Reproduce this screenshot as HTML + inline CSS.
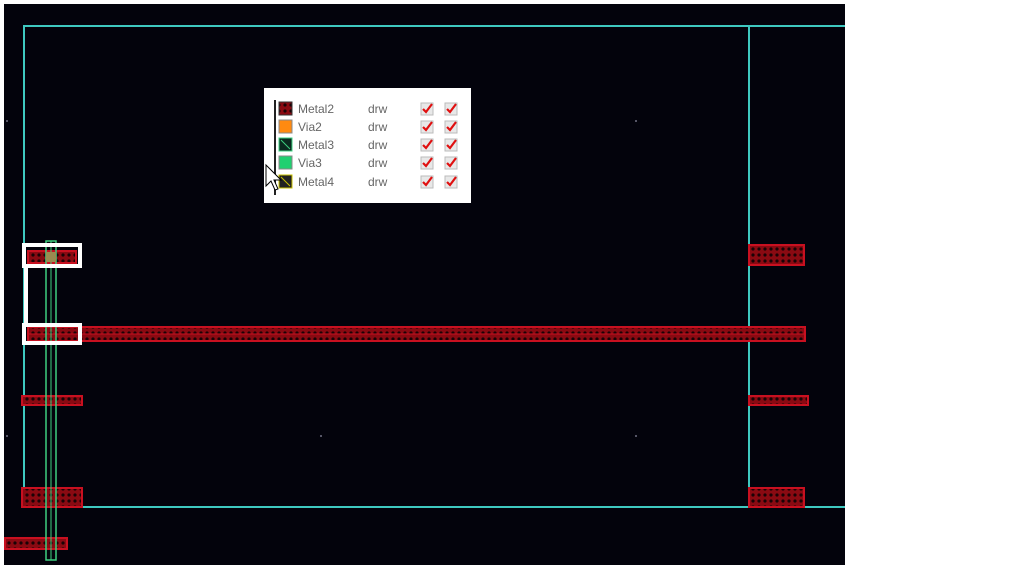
<!DOCTYPE html>
<html><head><style>
body{margin:0;background:#fff;width:1013px;height:569px;overflow:hidden}
svg{display:block}
text{font-family:"Liberation Sans",sans-serif;font-size:12px;fill:#666}
</style></head><body>
<svg width="1013" height="569" viewBox="0 0 1013 569">
<defs>
<pattern id="hx" width="6" height="6" patternUnits="userSpaceOnUse">
<rect width="6" height="6" fill="#8a0a12"/><circle cx="3" cy="3" r="1.6" fill="#1a0306"/>
</pattern>
<g id="cb"><rect x="0" y="0" width="12" height="12" fill="#e8e8e8" stroke="#bbb"/><path d="M2,6 L5,9 L11,1" stroke="#e01010" stroke-width="2.2" fill="none"/></g>
</defs>
<rect x="4" y="4" width="841" height="561" fill="#03030c"/>
<g stroke="#3ec8c0" stroke-width="2" fill="none">
<polyline points="24,505 24,26 845,26"/>
<line x1="749" y1="26" x2="749" y2="507"/>
<line x1="82" y1="507" x2="845" y2="507"/>
</g>
<g fill="url(#hx)" stroke="#c81020" stroke-width="2">
<rect x="28" y="251" width="48" height="12"/>
<rect x="28" y="327" width="777" height="14"/>
<rect x="22" y="396" width="60" height="9"/>
<rect x="22" y="488" width="60" height="19"/>
<rect x="5" y="538" width="62" height="11"/>
<rect x="749" y="245" width="55" height="20"/>
<rect x="749" y="396" width="59" height="9"/>
<rect x="749" y="488" width="55" height="19"/>
</g>
<line x1="28" y1="334" x2="805" y2="334" stroke="#c81020" stroke-width="1"/>
<rect x="46" y="241" width="10" height="319" fill="none" stroke="#3ed080" stroke-width="1.5"/>
<line x1="51" y1="241" x2="51" y2="560" stroke="#3ed080" stroke-width="1"/>
<rect x="46" y="252" width="10" height="10" fill="#9a8a50"/>
<g fill="none" stroke="#fff" stroke-width="4">
<rect x="24" y="245" width="56" height="21"/>
<rect x="24" y="325" width="56" height="18"/>
<line x1="26" y1="266" x2="26" y2="325"/>
</g>
<g fill="#556">
<rect x="6" y="120" width="2" height="2"/><rect x="635" y="120" width="2" height="2"/>
<rect x="320" y="435" width="2" height="2"/><rect x="635" y="435" width="2" height="2"/><rect x="6" y="435" width="2" height="2"/>
</g>
<rect x="264" y="88" width="207" height="115" fill="#fff"/>
<line x1="275" y1="100" x2="275" y2="195" stroke="#222" stroke-width="2"/>
<rect x="279" y="102" width="13" height="13" fill="url(#hx)" stroke="#333"/>
<rect x="279" y="120" width="13" height="13" fill="#ff8a10" stroke="#888"/>
<rect x="279" y="138" width="13" height="13" fill="#0a2a20" stroke="#3ed080"/>
<line x1="281" y1="140" x2="290" y2="149" stroke="#3ed080"/>
<rect x="279" y="156" width="13" height="13" fill="#20d070" stroke="#888"/>
<rect x="279" y="175" width="13" height="13" fill="#222" stroke="#c8c000"/>
<line x1="281" y1="177" x2="290" y2="186" stroke="#c8c000"/>
<text x="298" y="113">Metal2</text><text x="298" y="131">Via2</text><text x="298" y="149">Metal3</text><text x="298" y="167">Via3</text><text x="298" y="186">Metal4</text>
<text x="368" y="113">drw</text><text x="368" y="131">drw</text><text x="368" y="149">drw</text><text x="368" y="167">drw</text><text x="368" y="186">drw</text>
<use href="#cb" x="421" y="103"/><use href="#cb" x="445" y="103"/>
<use href="#cb" x="421" y="121"/><use href="#cb" x="445" y="121"/>
<use href="#cb" x="421" y="139"/><use href="#cb" x="445" y="139"/>
<use href="#cb" x="421" y="157"/><use href="#cb" x="445" y="157"/>
<use href="#cb" x="421" y="176"/><use href="#cb" x="445" y="176"/>
<polygon points="266,165 266,186 271,181 275,190 278,189 274,180 281,180" fill="#fff" stroke="#000"/>
</svg>
</body></html>
